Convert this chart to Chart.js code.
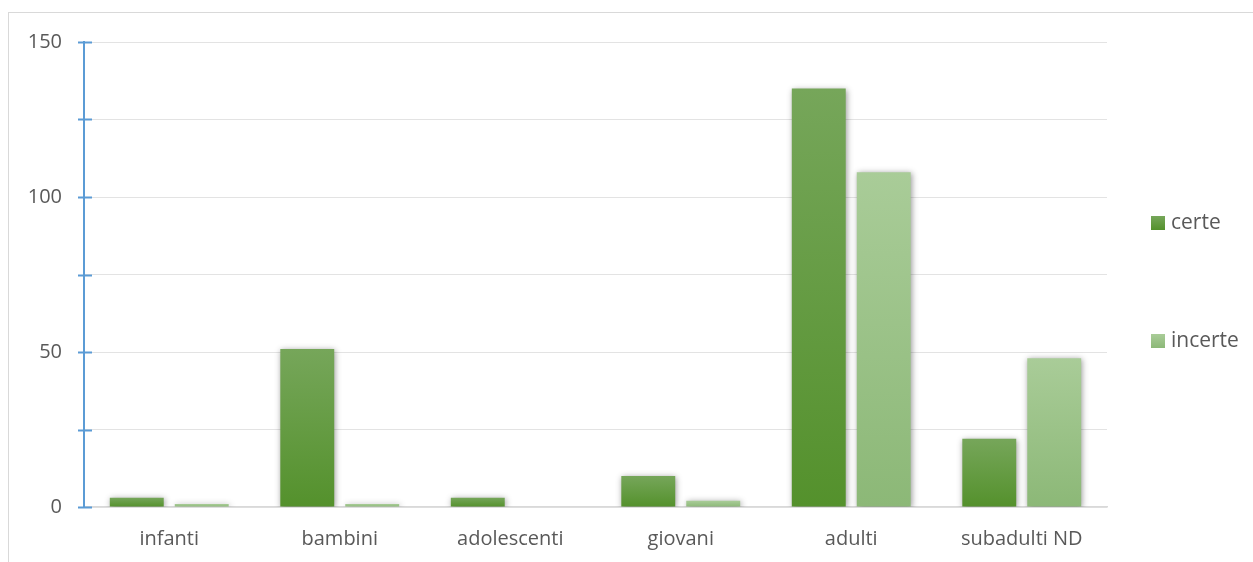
<!DOCTYPE html>
<html>
<head>
<meta charset="utf-8">
<script src="https://cdn.jsdelivr.net/npm/chart.js@4/dist/chart.umd.min.js"></script>
<style>
  html, body { margin: 0; padding: 0; background: #ffffff; overflow: hidden; }
  #wrap { position: relative; width: 1253px; height: 562px; }
  #frame { position: absolute; left: 8px; top: 12px; width: 1250px; height: 600px;
           border: 1px solid #d9d9d9; box-sizing: border-box; }
  #c { position: absolute; left: 0; top: 0; }
</style>
</head>
<body>
<div id="wrap">
  <div id="frame"></div>
  <canvas id="c" width="1253" height="562"></canvas>
</div>
<script>
// Age classes
const categories = ['infanti', 'bambini', 'adolescenti', 'giovani', 'adulti', 'subadulti ND'];
// Counts per class
const certe   = [3, 51, 3, 10, 135, 22];
const incerte = [1, 1, 0, 2, 108, 48];
// Value axis
const yMin = 0, yMax = 150, yStep = 25, yLabelEvery = 50;

const FONT = '"Open Sans", "Noto Sans", sans-serif';
const TEXT = '#595959';

// Vertical gradient per bar, from bar top to baseline
function barFill(topColor, bottomColor) {
  return (ctx) => {
    if (ctx.type !== 'data') return bottomColor;
    const chart = ctx.chart;
    const ys = chart.scales.y;
    if (!ys || !chart.chartArea) return bottomColor;
    const yTop = ys.getPixelForValue(ctx.raw);
    const yBase = ys.getPixelForValue(0);
    if (yBase - yTop < 1) return bottomColor;
    const g = chart.ctx.createLinearGradient(0, yTop, 0, yBase);
    g.addColorStop(0, topColor);
    g.addColorStop(1, bottomColor);
    return g;
  };
}

// Soft drop shadow beneath the bars
const barShadow = {
  id: 'barShadow',
  beforeDatasetsDraw(chart) {
    const c = chart.ctx;
    c.save();
    c.shadowColor = 'rgba(0,0,0,0.4)';
    c.shadowBlur = 6;
    c.shadowOffsetX = 1;
    c.shadowOffsetY = 1;
  },
  afterDatasetsDraw(chart) { chart.ctx.restore(); }
};

// Tick marks crossing the value axis on both sides
const crossTicks = {
  id: 'crossTicks',
  afterDraw(chart) {
    const ys = chart.scales.y;
    const c = chart.ctx;
    const x = chart.chartArea.left;
    c.save();
    c.strokeStyle = '#5b9bd5';
    c.lineWidth = 2;
    ys.ticks.forEach(t => {
      const y = Math.round(ys.getPixelForValue(t.value)) + 0.5;
      c.beginPath();
      c.moveTo(x - 6, y);
      c.lineTo(x + 8, y);
      c.stroke();
    });
    c.restore();
  }
};

// Legend stacked on the right with wide spacing
const sideLegend = {
  id: 'sideLegend',
  afterDraw(chart) {
    const c = chart.ctx;
    const cx = chart.chartArea.right + 44;
    const mid = chart.height / 2 + 1;
    const gap = 118;
    const n = chart.data.datasets.length;
    c.save();
    c.font = '21px ' + FONT;
    c.textBaseline = 'middle';
    c.textAlign = 'left';
    chart.data.datasets.forEach((ds, i) => {
      const y = mid + (i - (n - 1) / 2) * gap;
      const g = c.createLinearGradient(0, y - 7, 0, y + 7);
      g.addColorStop(0, ds.legendTop);
      g.addColorStop(1, ds.legendBottom);
      c.fillStyle = g;
      c.fillRect(cx, y - 7, 14, 14);
      c.fillStyle = TEXT;
      c.fillText(ds.label, cx + 20, y);
    });
    c.restore();
  }
};

new Chart(document.getElementById('c'), {
  type: 'bar',
  data: {
    labels: categories,
    datasets: [
      { label: 'certe', data: certe,
        backgroundColor: barFill('#76a65a', '#54912c'),
        legendTop: '#76a65a', legendBottom: '#54912c' },
      { label: 'incerte', data: incerte,
        backgroundColor: barFill('#a9cc98', '#8cb877'),
        legendTop: '#a9cc98', legendBottom: '#8cb877' }
    ]
  },
  options: {
    responsive: false,
    animation: false,
    events: [],
    devicePixelRatio: 1,
    layout: { padding: { left: 0, top: 42, right: 146, bottom: 11 } },
    datasets: { bar: { categoryPercentage: 0.762, barPercentage: 0.83, borderWidth: 0 } },
    plugins: { legend: { display: false }, tooltip: { enabled: false } },
    scales: {
      x: {
        afterFit(scale) { scale.height = 44; },
        grid: { display: false, drawTicks: false },
        border: { display: true, color: '#d9d9d9', width: 1.5 },
        ticks: { color: TEXT, font: { family: FONT, size: 20 }, padding: 20, maxRotation: 0 }
      },
      y: {
        min: yMin, max: yMax,
        afterFit(scale) { scale.width = 84; },
        grid: { color: '#e3e3e3', lineWidth: 1, drawTicks: false },
        border: { display: true, color: '#5b9bd5', width: 2 },
        ticks: {
          stepSize: yStep,
          color: TEXT,
          font: { family: FONT, size: 20 },
          padding: 22,
          callback: (v) => (v % yLabelEvery === 0 ? v : '')
        }
      }
    }
  },
  plugins: [barShadow, crossTicks, sideLegend]
});
</script>
</body>
</html>
